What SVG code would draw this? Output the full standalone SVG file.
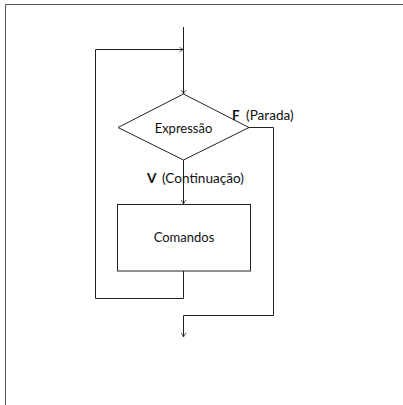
<svg xmlns="http://www.w3.org/2000/svg" width="403" height="405" viewBox="0 0 403 405">
  <style>
    .ln { fill: none; stroke: #222; stroke-width: 1; }
    .shape { fill: #fff; stroke: #222; stroke-width: 1; }
    .lbl { font-family: Lato, "DejaVu Sans", sans-serif; font-size: 13px; fill: #111; }
    .side { font-size: 13.6px; }
    .b { font-weight: bold; }
  </style>
  <defs>
    <marker id="tip" markerWidth="6" markerHeight="6" refX="5" refY="3" orient="auto" markerUnits="userSpaceOnUse">
      <path d="M1,0.5 Q3,2.5 5,3 Q3,3.5 1,5.5" fill="none" stroke="#222" stroke-width="0.8"/>
    </marker>
  </defs>
  <rect width="403" height="405" fill="#fff"/>
  <!-- frame -->
  <path d="M5.5,405 V4.5 H403" fill="none" stroke="#555" stroke-width="1"/>

  <g id="connectors">
    <!-- entry -->
    <path class="ln" d="M183.5,27 V94" marker-end="url(#tip)"/>
    <!-- true branch -->
    <path class="ln" d="M183.5,160 V204" marker-end="url(#tip)"/>
    <!-- loop back -->
    <path class="ln" d="M183.5,271 V298.5 H95.5 V49.5 H183.5" marker-end="url(#tip)"/>
    <!-- false branch / exit -->
    <path class="ln" d="M249,127.5 H273.5 V315.5 H183.5 V337" marker-end="url(#tip)"/>
  </g>

  <g id="expressao">
    <polygon class="shape" points="183.5,94 249,127.5 183.5,160 118,127.5"/>
    <text class="lbl" x="183.5" y="132.5" text-anchor="middle">Expressão</text>
  </g>

  <g id="comandos">
    <rect class="shape" x="117.5" y="204.5" width="133" height="66.5"/>
    <text class="lbl" x="184" y="242" text-anchor="middle">Comandos</text>
  </g>

  <g id="labels">
    <text class="lbl side" x="232" y="120"><tspan class="b">F</tspan><tspan x="246">(Parada)</tspan></text>
    <text class="lbl side" x="147" y="183"><tspan class="b">V</tspan><tspan x="162">(Continuação)</tspan></text>
  </g>
</svg>
